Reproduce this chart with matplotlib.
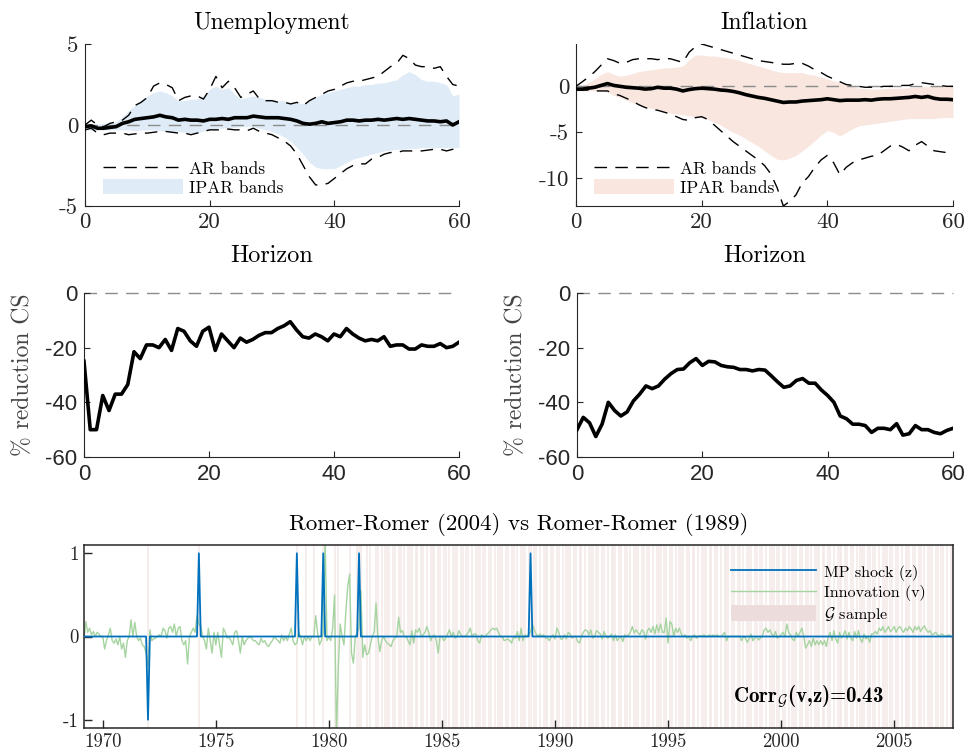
import numpy as np
import matplotlib.pyplot as plt
from matplotlib.patches import Patch
from matplotlib.lines import Line2D

plt.rcParams['font.family'] = 'cmr10'
plt.rcParams['mathtext.fontset'] = 'cm'
plt.rcParams['axes.unicode_minus'] = False
plt.rcParams['axes.formatter.use_mathtext'] = False

horizon = np.arange(61)

# --- unemployment IRF ---
un_point = [-0.1, -0.05, -0.2, -0.2, -0.15, -0.1, 0.1, 0.2, 0.35, 0.4, 0.45, 0.5, 0.6, 0.5, 0.45, 0.3,
            0.35, 0.3, 0.3, 0.25, 0.35, 0.35, 0.4, 0.35, 0.45, 0.45, 0.45, 0.55, 0.5, 0.45, 0.45, 0.45,
            0.4, 0.35, 0.25, 0.1, 0.05, 0.1, 0.2, 0.1, 0.15, 0.2, 0.3, 0.3, 0.25, 0.3, 0.3, 0.35, 0.3,
            0.35, 0.4, 0.35, 0.4, 0.35, 0.3, 0.25, 0.25, 0.2, 0.25, 0.0, 0.2]
un_ipar_hi = [0.0, 0.0, 0.05, 0.1, 0.1, 0.2, 0.5, 0.9, 1.2, 1.5, 1.8, 2.0, 2.1, 2.0, 1.8, 1.5, 1.5,
              1.6, 1.6, 1.8, 2.2, 2.4, 2.2, 2.3, 1.9, 1.6, 1.7, 1.8, 1.7, 1.6, 1.6, 1.5, 1.5, 1.4, 1.4,
              1.3, 1.5, 1.7, 1.9, 2.0, 2.1, 2.2, 2.3, 2.4, 2.4, 2.5, 2.5, 2.6, 2.6, 2.7, 2.8, 3.1, 3.3,
              3.1, 2.8, 2.7, 2.7, 2.6, 2.5, 1.8, 1.9]
un_ipar_lo = [-0.3, -0.3, -0.3, -0.3, -0.3, -0.3, -0.3, -0.3, -0.35, -0.3, -0.3, -0.3, -0.35, -0.4,
              -0.4, -0.4, -0.45, -0.5, -0.5, -0.35, -0.25, -0.2, -0.2, -0.15, -0.15, -0.1, -0.1, -0.1,
              -0.2, -0.3, -0.4, -0.55, -0.75, -1.0, -1.4, -1.8, -2.3, -2.6, -2.7, -2.7, -2.7, -2.5,
              -2.3, -2.1, -2.0, -1.9, -1.8, -1.7, -1.6, -1.55, -1.5, -1.5, -1.45, -1.45, -1.4, -1.4,
              -1.4, -1.4, -1.4, -1.4, -1.4]
un_ar_hi = [0.0, 0.3, 0.0, -0.1, 0.1, 0.2, 0.3, 0.6, 1.2, 1.4, 1.7, 2.4, 2.6, 2.5, 2.3, 1.5, 1.7, 1.8,
            1.8, 1.6, 2.2, 3.0, 2.3, 2.7, 2.3, 1.7, 1.9, 2.1, 1.6, 1.5, 1.5, 1.4, 1.4, 1.3, 1.4, 1.2,
            1.5, 1.7, 1.9, 2.1, 2.2, 2.4, 2.6, 2.7, 2.7, 2.8, 2.9, 3.0, 3.3, 3.6, 3.8, 4.3, 4.1, 3.7,
            3.6, 3.6, 3.5, 3.6, 3.0, 2.5, 2.4]
un_ar_lo = [-0.3, -0.2, -0.5, -0.6, -0.5, -0.5, -0.5, -0.6, -0.55, -0.5, -0.5, -0.45, -0.4, -0.4,
            -0.45, -0.5, -0.5, -0.6, -0.5, -0.4, -0.3, -0.3, -0.3, -0.25, -0.3, -0.3, -0.35, -0.2,
            -0.4, -0.5, -0.6, -0.8, -1.0, -1.3, -1.8, -2.5, -3.2, -3.7, -3.7, -3.6, -3.3, -3.0, -2.7,
            -2.5, -2.4, -2.4, -2.1, -2.0, -1.8, -1.7, -1.7, -1.6, -1.6, -1.6, -1.6, -1.55, -1.5,
            -1.5, -1.6, -1.5, -1.4]

# --- inflation IRF ---
in_point = [-0.3, -0.3, -0.2, -0.1, 0.1, 0.3, 0.1, 0.0, -0.1, -0.15, -0.2, -0.3, -0.25, -0.1, -0.2,
            -0.2, -0.3, -0.5, -0.35, -0.25, -0.2, -0.25, -0.3, -0.4, -0.45, -0.55, -0.7, -0.9, -1.05,
            -1.2, -1.3, -1.45, -1.6, -1.75, -1.7, -1.7, -1.6, -1.55, -1.5, -1.45, -1.35, -1.45, -1.55,
            -1.5, -1.5, -1.5, -1.45, -1.5, -1.4, -1.35, -1.35, -1.3, -1.25, -1.2, -1.1, -1.2, -1.1,
            -1.3, -1.4, -1.4, -1.45]
in_ipar_hi = [0.0, 0.1, 0.4, 0.8, 1.3, 1.6, 1.3, 1.1, 1.2, 1.4, 1.6, 1.7, 1.8, 1.9, 2.0, 2.0, 2.1,
              2.2, 2.9, 3.4, 3.4, 3.3, 3.3, 3.2, 3.1, 3.0, 2.8, 2.6, 2.4, 2.2, 2.0, 1.8, 1.6, 1.5, 1.5,
              1.5, 1.5, 1.3, 1.2, 1.0, 0.8, 0.6, 0.4, 0.2, 0.0, -0.2, -0.25, -0.3, -0.3, -0.25, -0.2,
              -0.2, -0.2, -0.15, -0.1, -0.05, 0.0, 0.0, 0.05, 0.1, 0.2]
in_ipar_lo = [-0.5, -0.5, -0.5, -0.45, -0.5, -0.6, -1.0, -1.2, -1.5, -1.8, -2.0, -2.2, -2.4, -2.5,
              -2.7, -2.9, -3.0, -3.1, -3.2, -3.3, -3.4, -3.6, -3.9, -4.2, -4.6, -5.0, -5.3, -5.7,
              -6.1, -6.5, -7.0, -7.5, -7.9, -8.0, -7.8, -7.5, -7.0, -6.5, -5.9, -5.3, -4.8, -5.0,
              -5.4, -5.0, -4.6, -4.3, -4.2, -4.1, -4.0, -3.9, -3.8, -3.7, -3.6, -3.5, -3.5, -3.5,
              -3.5, -3.5, -3.4, -3.4, -3.4]
in_ar_hi = [0.0, 0.5, 1.0, 1.6, 2.3, 3.0, 2.8, 2.5, 2.6, 2.9, 3.0, 3.0, 3.0, 2.9, 3.0, 3.0, 2.8, 2.6,
            3.7, 4.3, 4.6, 4.4, 4.2, 4.0, 3.8, 3.6, 3.4, 3.2, 3.0, 2.8, 2.7, 2.6, 2.5, 2.4, 2.4, 2.5,
            2.5, 2.2, 1.8, 1.5, 1.1, 0.8, 0.5, 0.2, 0.1, 0.0, -0.1, -0.1, -0.1, 0.0, 0.0, 0.05, 0.1,
            0.1, 0.3, 0.4, 0.3, 0.2, 0.1, 0.0, 0.0]
in_ar_lo = [-0.4, -0.4, -0.4, -0.5, -0.5, -0.5, -0.8, -1.0, -1.3, -1.6, -2.0, -2.3, -2.5, -2.6, -2.8,
            -3.0, -3.3, -3.6, -3.7, -3.4, -3.3, -3.6, -4.2, -4.8, -5.4, -6.0, -6.5, -7.0, -7.5, -8.0,
            -8.6, -9.5, -11.0, -13.0, -12.5, -11.8, -10.5, -9.8, -8.8, -8.0, -7.5, -8.3, -9.6, -8.8,
            -8.3, -8.0, -7.8, -7.6, -7.5, -7.0, -6.5, -6.3, -6.6, -7.0, -6.4, -6.0, -6.5, -7.0, -7.1,
            -7.2, -7.2]

# --- % reduction in confidence set size ---
cs_un = [-25, -50, -50, -37.5, -43, -37, -37, -33.5, -21.5, -24, -19, -19, -20, -17, -21, -13, -14,
         -17.5, -19.5, -14, -12.5, -21, -15, -17.5, -20, -16.5, -18, -17, -15.5, -14.5, -14.5, -13,
         -12, -10.5, -13.5, -16, -16.5, -15, -16, -17.5, -15, -16, -13, -15, -16.5, -17.5, -17,
         -17.5, -16, -19.5, -19, -19, -20.5, -20.5, -19, -19.5, -19.5, -18.5, -20, -19.5, -18]
cs_in = [-50, -45.5, -47.5, -52.5, -48, -40, -43, -45, -43.5, -39.5, -37, -34, -35, -34, -31.5, -29.5,
         -28, -27.8, -25.5, -24, -26.5, -25, -25.2, -26.5, -27, -27.2, -28, -28, -28.5, -28, -28.2,
         -30.3, -32.5, -34.5, -34, -32, -31.3, -33, -33, -35.5, -37.5, -40, -45, -46, -48, -48,
         -48.5, -51, -49.5, -49.5, -50, -47.8, -52, -51.5, -48.5, -50, -50, -51, -51.5, -50.3, -49.5]

# --- Romer-Romer: monthly innovation v, Mar 1969 .. Aug 2007 (one row per year) ---
innov_rows = [
    [-0.05, 0.18, 0.05, 0.1, 0.02, 0.06, 0.0, 0.05, 0.03, 0.0],                     # 1969
    [0.0, -0.15, -0.05, 0.02, 0.1, -0.05, -0.08, -0.03, -0.1, 0.0, -0.15, -0.08],   # 1970
    [-0.25, -0.05, 0.0, 0.2, 0.0, 0.17, 0.0, -0.05, -0.02, -0.1, -0.12, -0.2],
    [-0.35, 0.08, -0.05, -0.03, -0.02, 0.0, 0.02, 0.0, 0.1, 0.07, -0.02, 0.1],
    [0.12, 0.05, 0.15, 0.0, 0.1, 0.12, -0.05, -0.1, -0.05, -0.33, 0.0, 0.05],
    [0.1, 0.05, 0.25, 0.15, 0.12, 0.0, -0.05, -0.15, 0.1, -0.05, -0.2, 0.05],
    [-0.1, 0.05, -0.1, -0.25, 0.1, 0.05, -0.02, 0.0, -0.05, -0.1, 0.05, 0.07],     # 1975
    [-0.05, -0.2, 0.0, -0.1, -0.05, -0.02, 0.0, -0.02, -0.05, -0.05, -0.08, -0.1],
    [-0.02, -0.07, -0.05, -0.1, -0.12, -0.08, -0.05, 0.0, -0.03, -0.05, -0.08, 0.02],
    [-0.05, 0.0, -0.05, 0.03, 0.1, -0.05, -0.1, -0.08, 0.05, 0.0, -0.1, 0.0],
    [-0.05, 0.0, -0.05, 0.0, 0.0, 0.25, 0.05, -0.1, -0.05, 0.05, 1.2, -0.05],
    [0.0, -0.05, 0.1, 0.5, -1.2, -0.38, 0.15, 0.0, -0.1, 0.3, 0.6, 0.75],           # 1980
    [-0.2, -0.32, 0.0, 0.05, 0.1, 0.55, -0.25, -0.1, -0.22, -0.2, -0.1, 0.0],
    [0.05, 0.4, 0.0, -0.18, -0.05, 0.0, -0.05, -0.08, -0.1, -0.12, -0.05, -0.02],
    [0.0, 0.23, 0.05, 0.07, 0.0, 0.0, -0.05, -0.1, 0.07, -0.08, 0.08, 0.05],
    [0.1, 0.0, 0.02, 0.05, 0.12, 0.05, -0.05, 0.0, 0.02, -0.05, -0.2, 0.0],
    [0.0, -0.05, -0.02, 0.03, 0.08, 0.0, 0.05, -0.02, 0.0, 0.07, 0.02, 0.0],        # 1985
    [0.0, 0.02, 0.05, 0.1, 0.0, 0.03, 0.03, -0.05, -0.08, 0.02, 0.0, 0.0],
    [0.03, 0.05, 0.08, 0.1, 0.08, 0.1, 0.05, 0.0, 0.0, -0.05, -0.04, -0.03],
    [-0.05, -0.08, 0.0, -0.02, 0.06, -0.05, 0.1, -0.05, 0.02, 0.0, 0.03, 0.05],
    [0.15, 0.08, 0.03, 0.0, 0.03, 0.0, 0.02, -0.02, -0.02, -0.05, 0.0, 0.02],
    [-0.03, 0.1, 0.05, -0.03, -0.03, 0.02, -0.03, 0.05, 0.03, -0.02, 0.0, 0.0],     # 1990
    [-0.06, -0.08, 0.0, 0.05, 0.08, 0.07, 0.02, 0.08, -0.02, 0.0, 0.07, 0.05],
    [0.03, -0.03, 0.06, 0.0, -0.02, 0.0, 0.03, -0.05, 0.02, -0.05, -0.02, 0.0],
    [-0.06, 0.02, 0.0, 0.02, 0.05, 0.12, 0.04, 0.08, 0.05, 0.02, 0.08, 0.06],
    [-0.03, 0.07, 0.1, 0.05, 0.12, 0.03, 0.14, 0.05, 0.15, 0.05, 0.05, 0.22],
    [-0.08, 0.18, 0.15, 0.0, 0.1, 0.05, 0.1, 0.03, 0.0, 0.02, -0.02, 0.0],          # 1995
    [-0.05, 0.0, 0.02, -0.02, 0.0, 0.01, 0.0, 0.02, 0.0, 0.0, 0.02, 0.0],
    [0.02, 0.0, 0.02, 0.0, 0.0, 0.02, 0.05, -0.05, 0.0, 0.0, 0.0, 0.0],
    [0.0, 0.0, 0.0, -0.05, 0.0, -0.02, -0.07, -0.03, 0.03, -0.05, -0.02, 0.0],
    [-0.04, -0.02, 0.0, 0.08, 0.1, 0.05, 0.08, 0.03, 0.0, 0.06, -0.02, 0.0],
    [0.02, 0.05, 0.0, 0.15, 0.05, 0.02, -0.03, -0.05, 0.05, 0.0, 0.05, 0.1],        # 2000
    [0.0, -0.14, -0.1, -0.05, -0.12, -0.02, -0.1, -0.05, -0.1, -0.05, -0.1, -0.05],
    [-0.12, 0.0, 0.05, -0.05, 0.07, -0.03, -0.08, 0.05, -0.02, 0.02, 0.07, -0.03],
    [0.05, -0.02, -0.05, 0.06, -0.02, 0.07, -0.03, -0.07, 0.03, -0.03, 0.0, -0.07],
    [0.03, 0.03, 0.06, 0.03, 0.1, 0.07, 0.12, 0.05, 0.08, 0.12, 0.06, 0.08],
    [0.12, 0.05, 0.1, 0.12, 0.08, 0.05, 0.1, 0.07, 0.12, 0.09, 0.05, 0.12],         # 2005
    [0.08, 0.12, 0.06, 0.1, 0.13, 0.08, 0.05, 0.07, 0.02, 0.03, 0.05, 0.02],
    [0.0, 0.03, 0.02, 0.0, 0.01, 0.02, 0.0, 0.0],                                   # 2007
]
start_year, start_month = 1969, 3

# MP shock z (Romer-Romer 1989 dates): (year, month, value)
shocks = [(1972, 1, -1), (1974, 4, 1), (1978, 8, 1), (1979, 10, 1), (1981, 5, 1), (1988, 12, 1)]

# G sample months
g_early = [(1972, 1), (1974, 4), (1978, 8), (1979, 1), (1979, 5), (1979, 10), (1980, 4), (1980, 6),
           (1980, 12), (1981, 4), (1981, 5), (1981, 6), (1981, 9), (1981, 11)]
g_years = list(range(1982, 2008))
g_months = [2, 3, 5, 7, 8, 9, 11, 12]

# ------------------------------------------------------------------
innov = np.concatenate([np.array(r) for r in innov_rows])
months = np.arange(len(innov))
dates = start_year + (start_month - 1 + months) / 12
z = np.zeros(len(innov))
for y, m, v in shocks:
    z[(y - start_year) * 12 + m - start_month] = v
g_dates = [y + (m - 1) / 12 for y, m in g_early]
g_dates += [y + (m - 1) / 12 for y in g_years for m in g_months if y + (m - 1) / 12 <= dates[-1]]

W, H = 968, 753
fig = plt.figure(figsize=(W / 100, H / 100), dpi=100)


def ax_at(l, t, r, b):
    return fig.add_axes([l / W, 1 - b / H, (r - l) / W, (b - t) / H])


dark = '#262626'


def style(ax, tick_font=None, size=16.5):
    for s in ['top', 'right']:
        ax.spines[s].set_visible(False)
    for s in ['left', 'bottom']:
        ax.spines[s].set_color(dark)
        ax.spines[s].set_linewidth(0.8)
    ax.tick_params(direction='in', length=4, width=0.8, colors=dark, labelsize=size, pad=5)
    if tick_font:
        for lab in ax.get_xticklabels() + ax.get_yticklabels():
            lab.set_family(tick_font)


def irf_panel(ax, title, point, ar_hi, ar_lo, ip_hi, ip_lo, fill_col, ylim, yticks):
    ax.fill_between(horizon, ip_lo, ip_hi, color=fill_col, lw=0, zorder=1)
    ax.axhline(0, color='#8c8c8c', lw=1.0, ls=(0, (9, 6)), zorder=2)
    ax.plot(horizon, ar_hi, color='k', lw=1.0, ls=(0, (9, 6)), zorder=3)
    ax.plot(horizon, ar_lo, color='k', lw=1.0, ls=(0, (9, 6)), zorder=3)
    ax.plot(horizon, point, color='k', lw=2.6, zorder=4)
    ax.set_xlim(0, 60)
    ax.set_ylim(*ylim)
    ax.set_xticks([0, 20, 40, 60])
    ax.set_yticks(yticks)
    style(ax)
    ax.set_title(title, fontsize=17, pad=11)
    ax.set_xlabel('Horizon', fontsize=17.5, labelpad=9)
    handles = [Line2D([], [], color='k', lw=1.0, ls=(0, (9, 6))),
               Patch(facecolor=fill_col, edgecolor='none')]
    ax.legend(handles, ['AR bands', 'IPAR bands'], loc='lower left', frameon=False,
              fontsize=12.5, handlelength=4.6, handleheight=0.95, handletextpad=0.35,
              labelspacing=0.15, borderaxespad=0.2, bbox_to_anchor=(0.02, 0.0))


ax1 = ax_at(85, 44, 459, 206)
irf_panel(ax1, 'Unemployment', un_point, un_ar_hi, un_ar_lo, un_ipar_hi, un_ipar_lo,
          '#dfebf6', (-5, 5), [-5, 0, 5])
ax2 = ax_at(576, 44, 953, 206)
irf_panel(ax2, 'Inflation', in_point, in_ar_hi, in_ar_lo, in_ipar_hi, in_ipar_lo,
          '#f8e6df', (-13, 4.6), [-10, -5, 0])


def cs_panel(ax, vals):
    ax.axhline(0, color='#8c8c8c', lw=1.0, ls=(0, (9, 6)), zorder=1, clip_on=False)
    ax.plot(horizon, vals, color='k', lw=2.6, zorder=3)
    ax.set_xlim(0, 60)
    ax.set_ylim(-60, 0)
    ax.set_xticks([0, 20, 40, 60])
    ax.set_yticks([-60, -40, -20, 0])
    style(ax, tick_font='Liberation Sans', size=16)
    ax.set_ylabel('% reduction CS', fontsize=17, color='#444444', labelpad=8)


ax3 = ax_at(84, 293, 459, 457)
cs_panel(ax3, cs_un)
ax4 = ax_at(577, 293, 953, 457)
cs_panel(ax4, cs_in)

# bottom panel
ax5 = ax_at(84, 545, 953, 728)
ax5.vlines(g_dates, -1.2, 1.2, color='#f4e8e8', lw=1.1, zorder=0)
ax5.plot(dates, innov, color='#a6d4a0', lw=1.0, zorder=2)
ax5.plot(dates, z, color='#0072bd', lw=1.3, zorder=3)
ax5.set_xlim(1969.17, 2007.6)
ax5.set_ylim(-1.1, 1.1)
ax5.set_xticks([1970, 1975, 1980, 1985, 1990, 1995, 2000, 2005])
ax5.set_yticks([-1, 0, 1])
for s in ax5.spines.values():
    s.set_color(dark)
    s.set_linewidth(1.1)
ax5.tick_params(direction='in', length=6, width=1.0, colors=dark, labelsize=13.5, pad=4)
ax5.set_title('Romer-Romer (2004) vs Romer-Romer (1989)', fontsize=16.5, pad=11)
handles = [Line2D([], [], color='#0072bd', lw=1.3), Line2D([], [], color='#a6d4a0', lw=1.0),
           Patch(facecolor='#ecdcdc', edgecolor='none')]
ax5.legend(handles, ['MP shock (z)', 'Innovation (v)', r'$\mathcal{G}$ sample'],
           loc='upper right', frameon=False, fontsize=11.5, handlelength=5.3,
           handleheight=1.2, handletextpad=0.5, labelspacing=0.2,
           bbox_to_anchor=(0.985, 0.98))
ax5.text(0.747, 0.137, r'Corr$_{\mathcal{G}}$(v,z)=0.43', transform=ax5.transAxes,
         fontsize=15, family='cmb10', va='baseline')

fig.savefig('out.png', dpi=100)
